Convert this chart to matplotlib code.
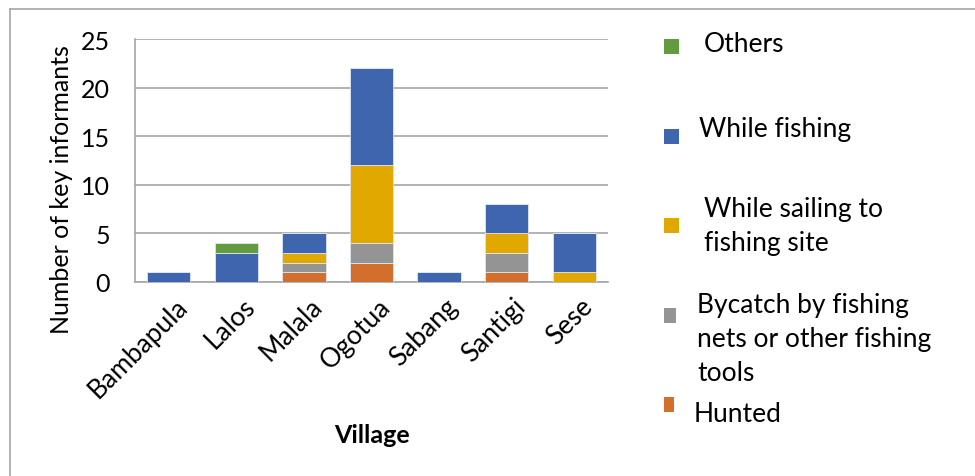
import matplotlib
matplotlib.use("Agg")
import matplotlib.pyplot as plt
from matplotlib.patches import Rectangle
from matplotlib.lines import Line2D
from matplotlib.transforms import ScaledTranslation
import numpy as np

plt.rcParams['font.family'] = ['Lato', 'DejaVu Sans']

villages = ["Bambapula", "Lalos", "Malala", "Ogotua", "Sabang", "Santigi", "Sese"]
hunted = [0, 0, 1, 2, 0, 1, 0]
bycatch = [0, 0, 1, 2, 0, 2, 0]
sailing = [0, 0, 1, 8, 0, 2, 1]
fishing = [1, 3, 2, 10, 1, 3, 4]
others = [0, 1, 0, 0, 0, 0, 0]

series = [
    ("Hunted", hunted, "#D36F2C"),
    ("Bycatch by fishing\nnets or other fishing\ntools", bycatch, "#949494"),
    ("While sailing to\nfishing site", sailing, "#E1A900"),
    ("While fishing", fishing, "#3E65AE"),
    ("Others", others, "#629C3F"),
]
y_ticks = [0, 5, 10, 15, 20, 25]

W, H = 975, 477
fig = plt.figure(figsize=(W / 100, H / 100), dpi=100)

def fx(px):
    return px / W

def fy(py):
    return 1 - py / H

ax = fig.add_axes([fx(135), fy(283), fx(608) - fx(135), fy(40) - fy(283)])
x = np.arange(len(villages))
bottom = np.zeros(len(villages))
for name, vals, col in series:
    v = np.array(vals, dtype=float)
    ax.bar(x, v, 0.64, bottom=bottom, color=col, edgecolor="#dfe6f2", linewidth=0.6, zorder=3)
    bottom += v

ax.set_xlim(-0.5, len(villages) - 0.5)
ax.set_ylim(0, 25)
ax.set_yticks(y_ticks)
ax.set_yticklabels([str(t) for t in y_ticks], fontsize=18)
ax.yaxis.grid(True, color="#a6a6a6", linewidth=1.2, zorder=0)
ax.set_axisbelow(True)
for s in ["top", "right"]:
    ax.spines[s].set_visible(False)
ax.spines["left"].set_color("#a6a6a6")
ax.spines["bottom"].set_color("#a6a6a6")
ax.spines["left"].set_linewidth(1.2)
ax.spines["bottom"].set_linewidth(1.2)
ax.tick_params(axis="y", length=0, pad=18)
ax.set_xticks(x)
ax.set_xticklabels(villages, rotation=45, ha="right", va="top", rotation_mode="anchor", fontsize=19)
ax.tick_params(axis="x", length=0, pad=8)
offset = ScaledTranslation(6 / 100, 0, fig.dpi_scale_trans)
for lab in ax.get_xticklabels():
    lab.set_transform(lab.get_transform() + offset)

fig.text(fx(62), fy(190), "Number of key informants", rotation=90, ha="center", va="center", fontsize=18)
fig.text(fx(372), fy(436), "Village", ha="center", va="center", fontsize=18, fontweight="bold")

# legend (manual placement)
leg = [
    ("Others", "#629C3F", (664, 40, 15, 15), (704, 45)),
    ("While fishing", "#3E65AE", (664, 130, 15, 15), (699, 130)),
    ("While sailing to\nfishing site", "#E1A900", (664, 219, 15, 15), (704, 227)),
    ("Bycatch by fishing\nnets or other fishing\ntools", "#949494", (664, 309, 12, 15), (697, 340)),
    ("Hunted", "#D36F2C", (664, 398, 10, 15), (694, 415)),
]
for label, col, (sx, sy, sw, sh), (tx, ty) in leg:
    fig.patches.append(Rectangle((fx(sx), fy(sy + sh)), sw / W, sh / H, transform=fig.transFigure,
                                 facecolor=col, edgecolor="none"))
    fig.text(fx(tx), fy(ty), label, ha="left", va="center", fontsize=19, linespacing=1.45)

# chart border (top and left visible)
fig.add_artist(Line2D([fx(10), 1], [fy(10), fy(10)], color="#a6a6a6", linewidth=1.2, transform=fig.transFigure))
fig.add_artist(Line2D([fx(10), fx(10)], [fy(10), 0], color="#a6a6a6", linewidth=1.2, transform=fig.transFigure))

fig.savefig("out.png", dpi=100)
